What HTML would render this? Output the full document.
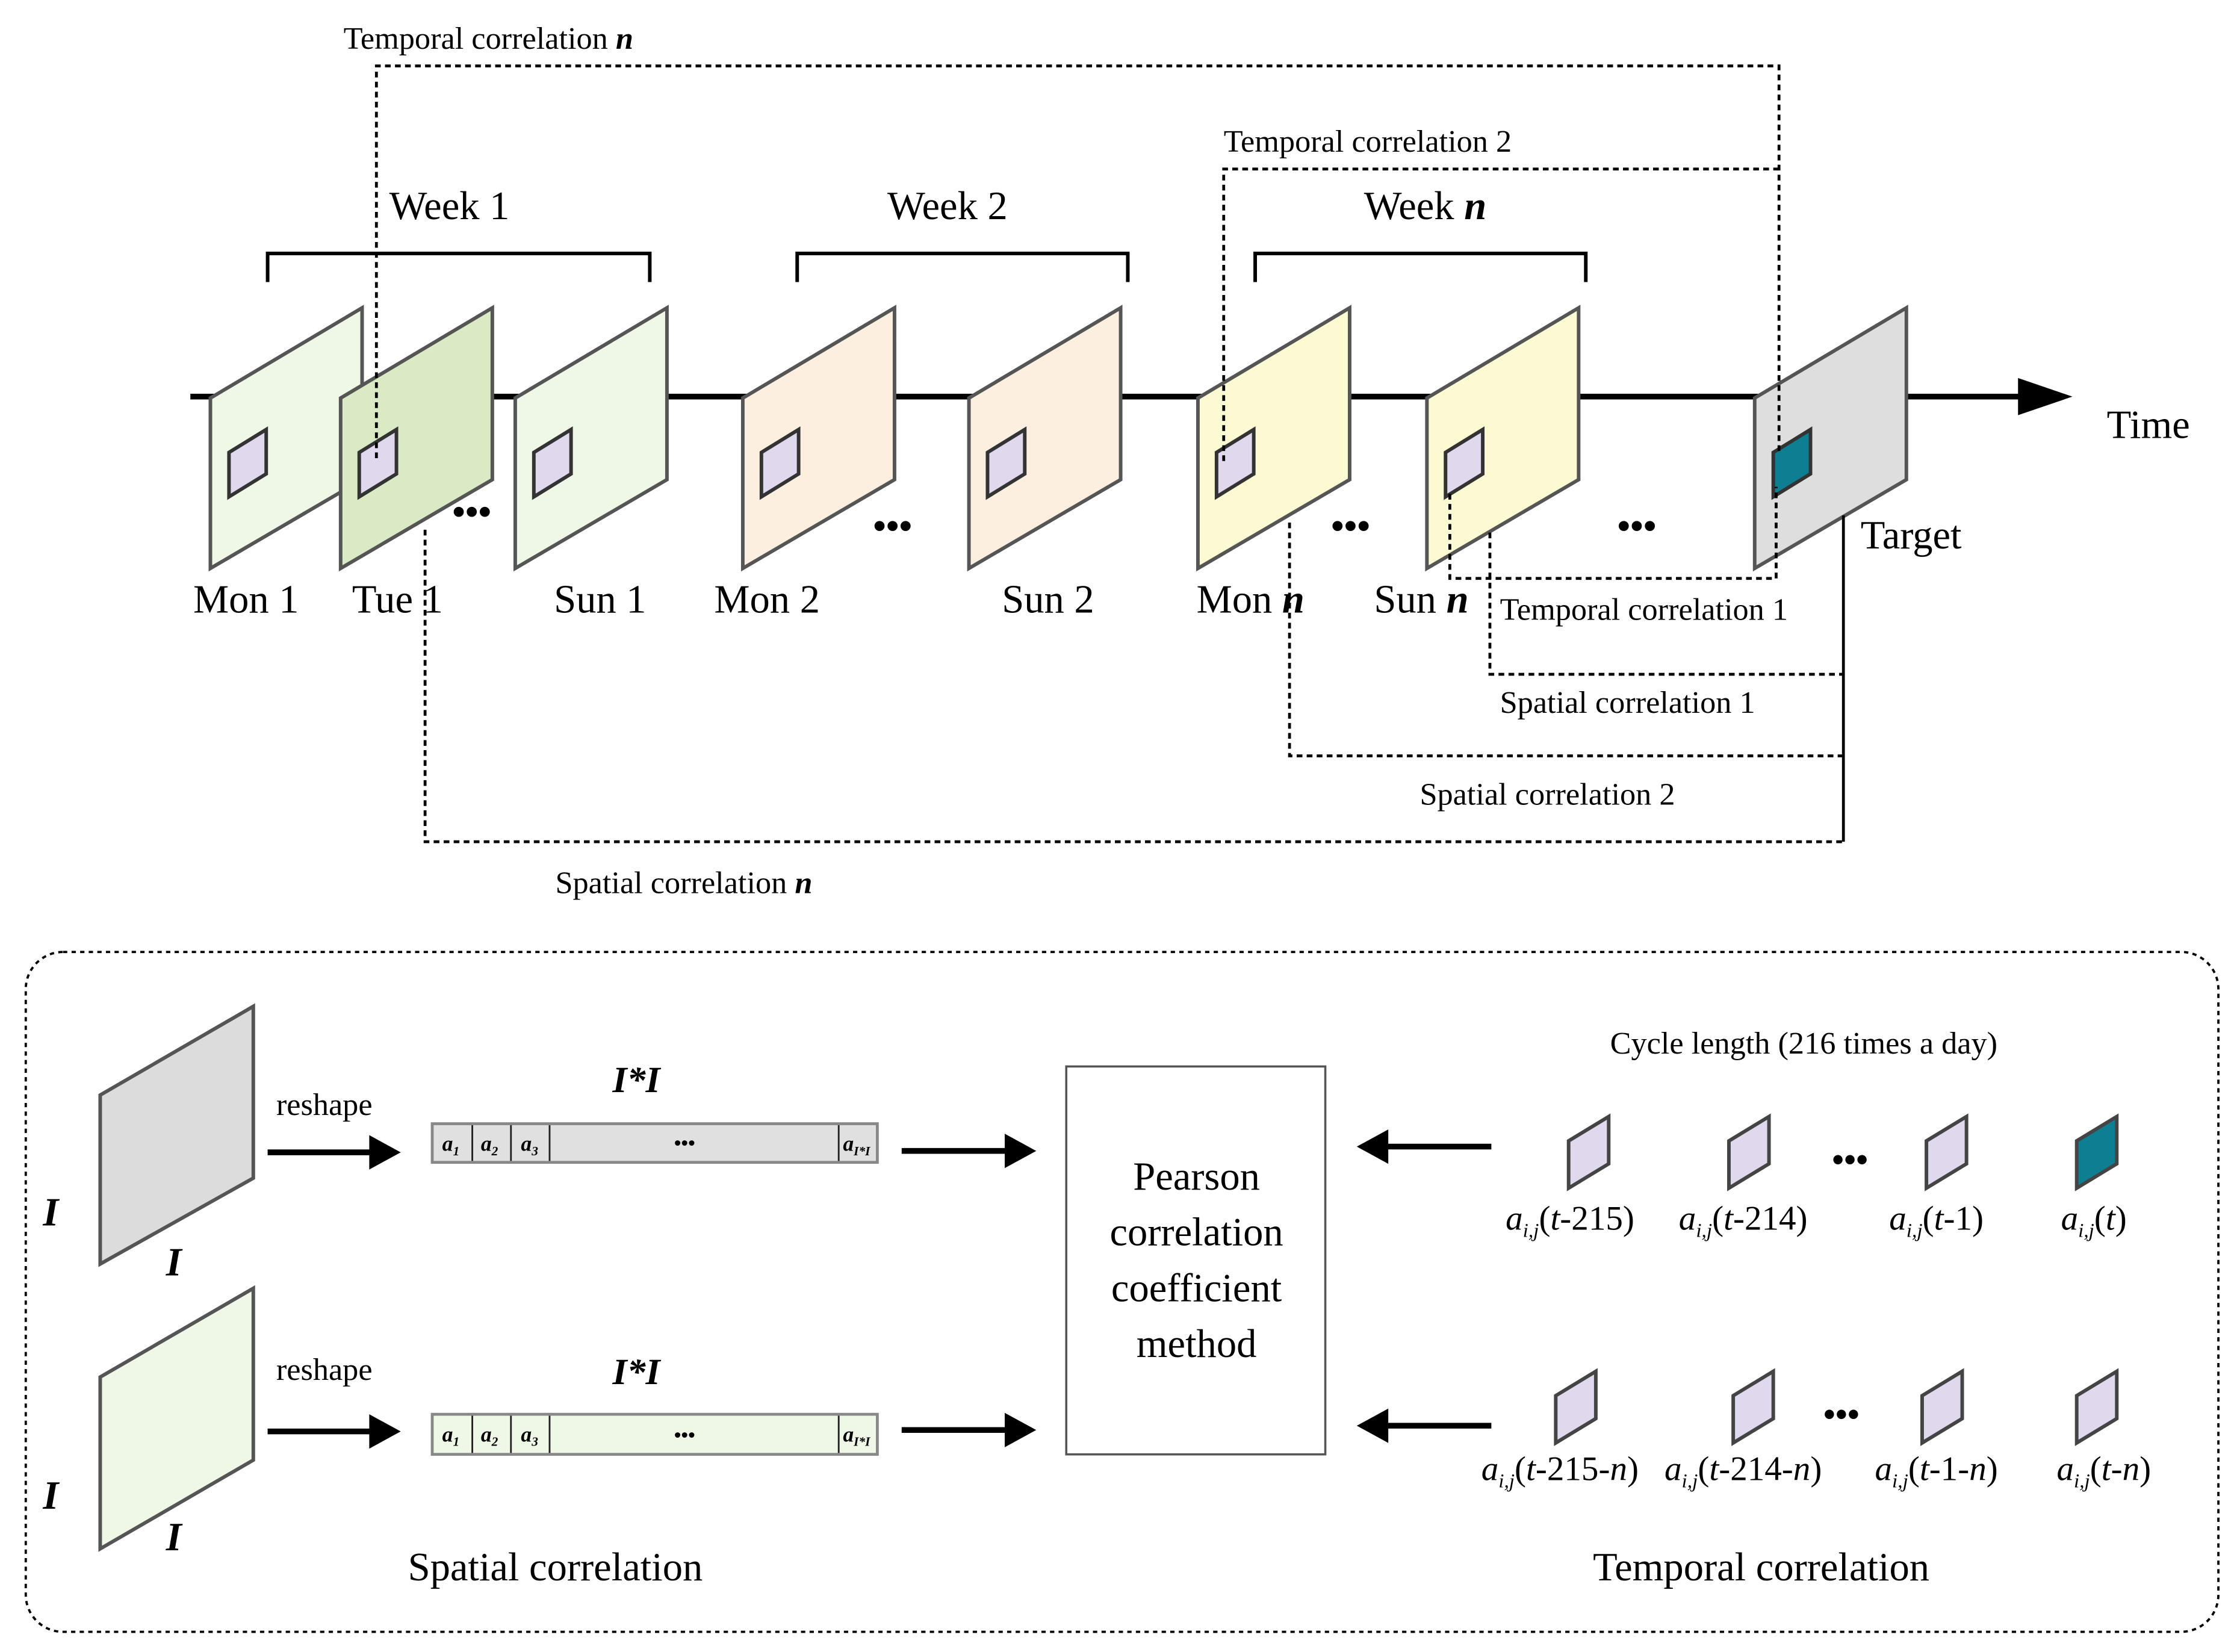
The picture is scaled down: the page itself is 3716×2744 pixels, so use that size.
<!DOCTYPE html>
<html><head><meta charset="utf-8"><style>
html,body{margin:0;padding:0;background:#fff}
svg{display:block}
text{font-family:"Liberation Serif",serif;fill:#000}
</style></head><body>
<svg width="3716" height="2744" viewBox="0 0 1563 1154" xmlns="http://www.w3.org/2000/svg">
<defs>
<g id="frame"><polygon points="0,278 106,215 106,335 0,397" stroke="#555" stroke-width="2.5"/></g>
</defs>
<rect width="1563" height="1154" fill="#fff"/>
<line x1="133" y1="277" x2="1415" y2="277" stroke="#000" stroke-width="4"/>
<polygon points="1410,264 1448,277 1410,290" fill="#000"/>
<text x="1472" y="306" font-size="28">Time</text>
<g stroke="#000" stroke-width="2.5" fill="none">
<polyline points="187,197 187,177 454,177 454,197"/>
<polyline points="557,197 557,177 788,177 788,197"/>
<polyline points="877,197 877,177 1108,177 1108,197"/>
</g>
<text x="272" y="153" font-size="28">Week 1</text>
<text x="620" y="153" font-size="28">Week 2</text>
<text x="953" y="153" font-size="28">Week <tspan font-style="italic" font-weight="bold">n</tspan></text>
<g>
<use href="#frame" x="147" fill="#eff7e7"/>
<use href="#frame" x="238" fill="#d9eac5"/>
<use href="#frame" x="360" fill="#eff7e7"/>
<use href="#frame" x="519" fill="#fcefe0"/>
<use href="#frame" x="677" fill="#fcefe0"/>
<use href="#frame" x="837" fill="#fcfad2"/>
<use href="#frame" x="997" fill="#fcfad2"/>
<use href="#frame" x="1226" fill="#dedede"/>
</g>
<g stroke="#333" stroke-width="2.5" fill="#e0d8ec">
<polygon points="160,316 186,300 186,331 160,347"/>
<polygon points="251,316 277,300 277,331 251,347"/>
<polygon points="373,316 399,300 399,331 373,347"/>
<polygon points="532,316 558,300 558,331 532,347"/>
<polygon points="690,316 716,300 716,331 690,347"/>
<polygon points="850,316 876,300 876,331 850,347"/>
<polygon points="1010,316 1036,300 1036,331 1010,347"/>
<polygon points="1239,316 1265,300 1265,331 1239,347" fill="#0e7f92"/>
</g>
<g font-size="26" font-weight="bold">
<text x="316" y="366">•••</text><text x="610" y="376">•••</text>
<text x="930" y="376">•••</text><text x="1130" y="376">•••</text>
</g>
<g font-size="28">
<text x="135" y="428">Mon 1</text>
<text x="246" y="428">Tue 1</text>
<text x="387" y="428">Sun 1</text>
<text x="499" y="428">Mon 2</text>
<text x="700" y="428">Sun 2</text>
<text x="836" y="428">Mon <tspan font-style="italic" font-weight="bold">n</tspan></text>
<text x="960" y="428">Sun <tspan font-style="italic" font-weight="bold">n</tspan></text>
<text x="1300" y="383">Target</text>
</g>
<g stroke="#000" stroke-width="2" fill="none" stroke-dasharray="4,3">
<polyline points="263,320 263,46 1243,46 1243,318"/>
<polyline points="855,322 855,118 1243,118"/>
<polyline points="1013,345 1013,404 1241,404 1241,340"/>
<polyline points="297,370 297,588 1288,588"/>
<polyline points="901,365 901,528 1288,528"/>
<polyline points="1041,372 1041,471 1288,471"/>
</g>
<line x1="1288" y1="360" x2="1288" y2="588" stroke="#000" stroke-width="2"/>
<g font-size="22">
<text x="240" y="34">Temporal correlation <tspan font-style="italic" font-weight="bold">n</tspan></text>
<text x="855" y="106">Temporal correlation 2</text>
<text x="1048" y="433">Temporal correlation 1</text>
<text x="1048" y="498">Spatial correlation 1</text>
<text x="992" y="562">Spatial correlation 2</text>
<text x="388" y="624">Spatial correlation <tspan font-style="italic" font-weight="bold">n</tspan></text>
</g>
<rect x="18" y="665" width="1532" height="475" rx="26" fill="none" stroke="#000" stroke-width="1.6" stroke-dasharray="3,3"/>
<polygon points="70,765 177,703 177,823 70,883" fill="#dcdcdc" stroke="#555" stroke-width="2.5"/>
<polygon points="70,962 177,900 177,1020 70,1082" fill="#eff7e7" stroke="#555" stroke-width="2.5"/>
<g font-size="28" font-style="italic" font-weight="bold">
<text x="30" y="856">I</text><text x="116" y="891">I</text>
<text x="30" y="1054">I</text><text x="116" y="1083">I</text>
</g>
<g font-size="22"><text x="193" y="779">reshape</text><text x="193" y="964">reshape</text></g>
<g stroke="#000" stroke-width="4">
<line x1="187" y1="805" x2="262" y2="805"/><line x1="187" y1="1000" x2="262" y2="1000"/>
<line x1="630" y1="804" x2="707" y2="804"/><line x1="630" y1="999" x2="707" y2="999"/>
<line x1="1042" y1="801" x2="965" y2="801"/><line x1="1042" y1="996" x2="965" y2="996"/>
</g>
<g fill="#000">
<polygon points="258,793 280,805 258,817"/><polygon points="258,988 280,1000 258,1012"/>
<polygon points="702,792 724,804 702,816"/><polygon points="702,987 724,999 702,1011"/>
<polygon points="970,789 948,801 970,813"/><polygon points="970,984 948,996 970,1008"/>
</g>
<rect x="302" y="785" width="311" height="27" fill="#e0e0e0" stroke="#888" stroke-width="2"/>
<rect x="302" y="988" width="311" height="28" fill="#eff7e7" stroke="#888" stroke-width="2"/>
<g stroke="#222" stroke-width="1.2">
<line x1="330" y1="786" x2="330" y2="811"/><line x1="357" y1="786" x2="357" y2="811"/><line x1="384" y1="786" x2="384" y2="811"/><line x1="586" y1="786" x2="586" y2="811"/>
<line x1="330" y1="989" x2="330" y2="1015"/><line x1="357" y1="989" x2="357" y2="1015"/><line x1="384" y1="989" x2="384" y2="1015"/><line x1="586" y1="989" x2="586" y2="1015"/>
</g>
<g font-size="15" font-style="italic" font-weight="bold">
<text x="309" y="804">a<tspan font-size="9" dy="3">1</tspan></text>
<text x="336" y="804">a<tspan font-size="9" dy="3">2</tspan></text>
<text x="364" y="804">a<tspan font-size="9" dy="3">3</tspan></text>
<text x="589" y="804">a<tspan font-size="9" dy="3">I*I</tspan></text>
<text x="309" y="1007">a<tspan font-size="9" dy="3">1</tspan></text>
<text x="336" y="1007">a<tspan font-size="9" dy="3">2</tspan></text>
<text x="364" y="1007">a<tspan font-size="9" dy="3">3</tspan></text>
<text x="589" y="1007">a<tspan font-size="9" dy="3">I*I</tspan></text>
</g>
<g font-size="14" font-weight="bold"><text x="471" y="803">•••</text><text x="471" y="1007">•••</text></g>
<g font-size="26" font-style="italic" font-weight="bold"><text x="428" y="763">I*I</text><text x="428" y="967">I*I</text></g>
<rect x="745" y="745" width="181" height="271" fill="#fff" stroke="#555" stroke-width="1.5"/>
<g font-size="28" text-anchor="middle">
<text x="836" y="831">Pearson</text><text x="836" y="870">correlation</text>
<text x="836" y="909">coefficient</text><text x="836" y="948">method</text>
</g>
<text x="1125" y="736" font-size="22">Cycle length (216 times a day)</text>
<g stroke="#444" stroke-width="2.5" fill="#e0d8ec">
<polygon points="1096,797 1124,780 1124,813 1096,830"/>
<polygon points="1208,797 1236,780 1236,813 1208,830"/>
<polygon points="1346,797 1374,780 1374,813 1346,830"/>
<polygon points="1451,797 1479,780 1479,813 1451,830" fill="#0e7f92"/>
<polygon points="1087,975 1115,958 1115,991 1087,1008"/>
<polygon points="1211,975 1239,958 1239,991 1211,1008"/>
<polygon points="1343,975 1371,958 1371,991 1343,1008"/>
<polygon points="1451,975 1479,958 1479,991 1451,1008"/>
</g>
<g font-size="24" font-weight="bold"><text x="1280" y="818">•••</text><text x="1274" y="996">•••</text></g>
<g font-size="24">
<text x="1052" y="859"><tspan font-style="italic">a</tspan><tspan font-size="14" dy="5" font-style="italic">i,j</tspan><tspan dy="-5">(<tspan font-style="italic">t</tspan>-215)</tspan></text>
<text x="1173" y="859"><tspan font-style="italic">a</tspan><tspan font-size="14" dy="5" font-style="italic">i,j</tspan><tspan dy="-5">(<tspan font-style="italic">t</tspan>-214)</tspan></text>
<text x="1320" y="859"><tspan font-style="italic">a</tspan><tspan font-size="14" dy="5" font-style="italic">i,j</tspan><tspan dy="-5">(<tspan font-style="italic">t</tspan>-1)</tspan></text>
<text x="1440" y="859"><tspan font-style="italic">a</tspan><tspan font-size="14" dy="5" font-style="italic">i,j</tspan><tspan dy="-5">(<tspan font-style="italic">t</tspan>)</tspan></text>
<text x="1035" y="1034"><tspan font-style="italic">a</tspan><tspan font-size="14" dy="5" font-style="italic">i,j</tspan><tspan dy="-5">(<tspan font-style="italic">t</tspan>-215-<tspan font-style="italic">n</tspan>)</tspan></text>
<text x="1163" y="1034"><tspan font-style="italic">a</tspan><tspan font-size="14" dy="5" font-style="italic">i,j</tspan><tspan dy="-5">(<tspan font-style="italic">t</tspan>-214-<tspan font-style="italic">n</tspan>)</tspan></text>
<text x="1310" y="1034"><tspan font-style="italic">a</tspan><tspan font-size="14" dy="5" font-style="italic">i,j</tspan><tspan dy="-5">(<tspan font-style="italic">t</tspan>-1-<tspan font-style="italic">n</tspan>)</tspan></text>
<text x="1437" y="1034"><tspan font-style="italic">a</tspan><tspan font-size="14" dy="5" font-style="italic">i,j</tspan><tspan dy="-5">(<tspan font-style="italic">t</tspan>-<tspan font-style="italic">n</tspan>)</tspan></text>
</g>
<g font-size="28">
<text x="285" y="1104">Spatial correlation</text>
<text x="1113" y="1104">Temporal correlation</text>
</g>
</svg>
</body></html>
